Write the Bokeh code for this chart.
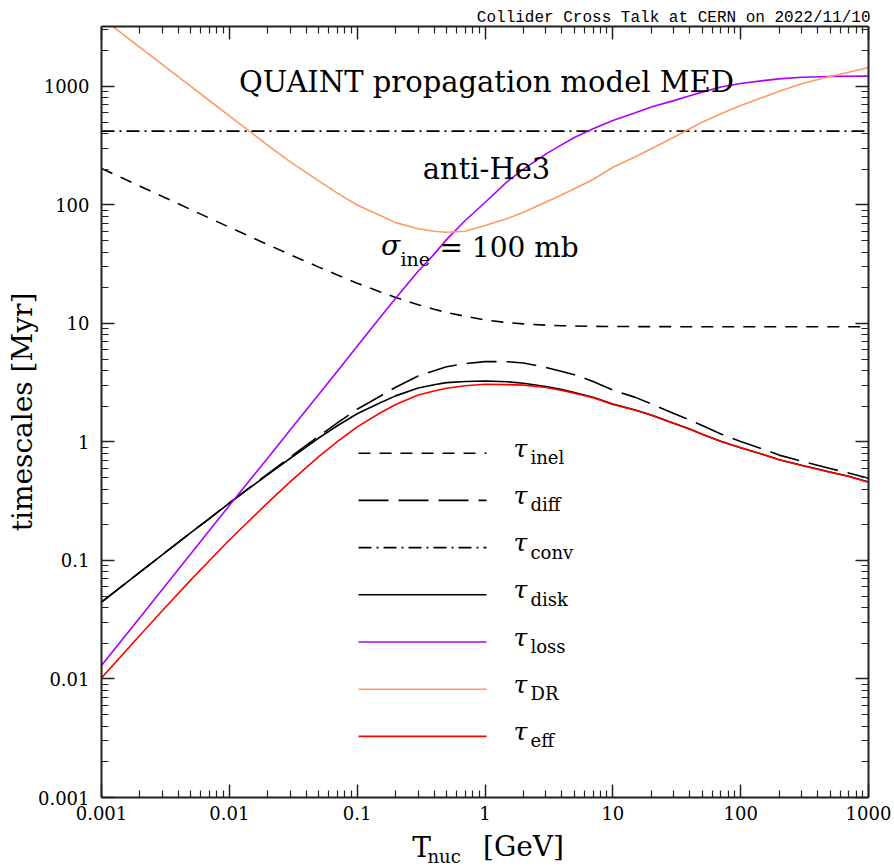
import math
from bokeh.plotting import figure
from bokeh.layouts import column
from bokeh.models import LogAxis, FixedTicker, CustomJSTickFormatter, Label, Range1d
from bokeh.embed import file_html
from bokeh.resources import INLINE

# ---------------- data ----------------
T = [0.001, 0.002, 0.003, 0.005, 0.007, 0.01, 0.02, 0.03, 0.05, 0.07,
     0.1, 0.15, 0.2, 0.3, 0.4, 0.5, 0.7, 1, 1.5, 2,
     3, 4, 5, 7, 10, 15, 20, 30, 40, 50,
     70, 100, 150, 200, 300, 500, 700, 1000]

tau_inel = [203, 144, 118, 91.4, 77.4, 64.9, 46.3, 38.1, 29.9, 25.7,
            21.9, 18.55, 16.6, 14.4, 13.18, 12.4, 11.5, 10.7, 10.18, 9.92,
            9.68, 9.58, 9.52, 9.47, 9.43, 9.42, 9.41, 9.4, 9.4, 9.4,
            9.4, 9.4, 9.4, 9.4, 9.4, 9.4, 9.4, 9.4]

tau_diff = [0.0446, 0.0798, 0.112, 0.172, 0.227, 0.307, 0.538, 0.745, 1.12, 1.45,
            1.89, 2.42, 2.90, 3.61, 3.99, 4.32, 4.59, 4.77, 4.76, 4.64,
            4.25, 3.94, 3.70, 3.24, 2.74, 2.38, 2.10, 1.74, 1.53, 1.38,
            1.17, 1.01, 0.87, 0.775, 0.688, 0.598, 0.547, 0.495]

T_conv = [0.001, 1000]
tau_conv = [420, 420]

tau_disk = [0.0445, 0.0797, 0.112, 0.172, 0.226, 0.305, 0.531, 0.729, 1.08, 1.37,
            1.73, 2.13, 2.45, 2.86, 3.04, 3.17, 3.24, 3.27, 3.22, 3.13,
            2.94, 2.77, 2.62, 2.39, 2.09, 1.86, 1.69, 1.44, 1.285, 1.165,
            1.015, 0.896, 0.785, 0.709, 0.636, 0.558, 0.514, 0.46]

tau_loss = [0.0130, 0.0331, 0.0573, 0.114, 0.180, 0.291, 0.733, 1.27, 2.52, 3.96,
            6.42, 11.1, 16.3, 27.6, 38.5, 51, 74, 105, 158, 201,
            270, 323, 371, 440, 516, 600, 670, 760, 835, 896,
            990, 1060, 1120, 1160, 1195, 1216, 1220, 1222]

tau_DR = [3800, 2143, 1531, 1001, 758, 564, 319, 231, 160, 126,
          100, 82, 71, 63, 60, 58.8, 60, 67, 77, 87,
          106, 122, 137, 164, 208, 255, 298, 373, 440, 500,
          589, 692, 810, 912, 1054, 1216, 1321, 1445]

tau_eff = [0.0102, 0.0234, 0.0379, 0.0686, 0.100, 0.149, 0.308, 0.463, 0.752, 1.008,
           1.341, 1.748, 2.07, 2.49, 2.69, 2.84, 2.98, 3.07, 3.05, 3.02,
           2.88, 2.72, 2.58, 2.36, 2.075, 1.85, 1.68, 1.43, 1.28, 1.16,
           1.01, 0.893, 0.784, 0.707, 0.634, 0.556, 0.512, 0.458]

x_ticks = [0.001, 0.01, 0.1, 1, 10, 100, 1000]
x_tick_labels = ["0.001", "0.01", "0.1", "1", "10", "100", "1000"]
y_ticks = [0.001, 0.01, 0.1, 1, 10, 100, 1000]
y_tick_labels = ["0.001", "0.01", "0.1", "1", "10", "100", "1000"]

legend_subs = ["inel", "diff", "conv", "disk", "loss", "DR", "eff"]

# ---------------- layout ----------------
W, H = 894, 868
H_MAIN = 828                      # main figure; a text strip sits below it
STRIP_H = H - H_MAIN
BL, BR, BT = 101, 26, 26
FRAME_BOTTOM = 797
BB = H_MAIN - FRAME_BOTTOM
FW, FH = W - BL - BR, FRAME_BOTTOM - BT
X_LO, X_HI = 0.001, 1000.0
Y_LO, Y_HI = 0.001, 3208.0
LX0, LX1 = math.log10(X_LO), math.log10(X_HI)
LY0, LY1 = math.log10(Y_LO), math.log10(Y_HI)
BASE_SHIFT = 0.36   # label anchor sits this many em below the glyph baseline


def dx(px):
    return 10 ** (LX0 + (px - BL) / FW * (LX1 - LX0))


def dy(py):
    return 10 ** (LY1 - (py - BT) / FH * (LY1 - LY0))


SERIF = "DejaVu Serif"
AX_COLOR = "#222222"

p = figure(width=W, height=H_MAIN, x_axis_type="log", y_axis_type="log",
           x_range=Range1d(X_LO, X_HI), y_range=Range1d(Y_LO, Y_HI),
           output_backend="svg", toolbar_location=None,
           min_border_left=BL, min_border_right=BR,
           min_border_top=BT, min_border_bottom=BB)
p.outline_line_color = None
p.xgrid.visible = False
p.ygrid.visible = False
p.background_fill_color = "white"
p.border_fill_color = "white"

# top-right caption as the plot title
p.title.text = "Collider Cross Talk at CERN on 2022/11/10"
p.title.align = "right"
p.title.text_font = "Liberation Mono"
p.title.text_font_size = "16px"
p.title.text_font_style = "normal"
p.title.text_color = "black"
p.title.standoff = 0
p.title.offset = -2


def minor_of(ticks, hi):
    out = []
    for t in ticks:
        for m in range(2, 10):
            v = t * m
            if v <= hi * 1.0001:
                out.append(v)
    return out


label_code = """
for (let i = 0; i < tvals.length; i++) {
  if (Math.abs(Math.log10(tick) - Math.log10(tvals[i])) < 1e-6) return tlabels[i];
}
return "";
"""


def style(ax, ticks, labels, hi, show, standoff):
    ax.ticker = FixedTicker(ticks=ticks, minor_ticks=minor_of(ticks, hi))
    ax.axis_line_width = 2
    ax.axis_line_color = AX_COLOR
    ax.major_tick_in = 13
    ax.major_tick_out = 0
    ax.minor_tick_in = 7
    ax.minor_tick_out = 0
    ax.major_tick_line_width = 1.5
    ax.minor_tick_line_width = 1.2
    ax.major_tick_line_color = AX_COLOR
    ax.minor_tick_line_color = AX_COLOR
    if show:
        ax.formatter = CustomJSTickFormatter(args=dict(tvals=ticks, tlabels=labels), code=label_code)
        ax.major_label_text_font = SERIF
        ax.major_label_text_font_size = "18px"
        ax.major_label_text_color = "black"
        ax.major_label_standoff = standoff
    else:
        ax.formatter = CustomJSTickFormatter(code="return '';")
        ax.major_label_text_font_size = "0px"
        ax.major_label_standoff = 0


style(p.xaxis[0], x_ticks, x_tick_labels, X_HI, True, 8)
style(p.yaxis[0], y_ticks, y_tick_labels, Y_HI, True, 12)
top_ax = LogAxis()
right_ax = LogAxis()
style(top_ax, x_ticks, x_tick_labels, X_HI, False, 0)
style(right_ax, y_ticks, y_tick_labels, Y_HI, False, 0)
p.add_layout(top_ax, "above")
p.add_layout(right_ax, "right")

ya = p.yaxis[0]
ya.axis_label = "timescales [Myr]"
ya.axis_label_text_font = SERIF
ya.axis_label_text_font_size = "28px"
ya.axis_label_text_font_style = "normal"
ya.axis_label_text_color = "black"
ya.axis_label_standoff = -4

# ---------------- curves ----------------
LW = 1.6
ORANGE = "#ff9966"
PURPLE = "#aa00ff"
RED = "#ff0000"
styles = [
    dict(color="black", line_dash="12 9"),
    dict(color="black", line_dash="30 10"),
    dict(color="black", line_dash="13 5 2 5"),
    dict(color="black", line_dash="solid"),
    dict(color=PURPLE, line_dash="solid"),
    dict(color=ORANGE, line_dash="solid"),
    dict(color=RED, line_dash="solid"),
]
series = [(T, tau_inel), (T, tau_diff), (T_conv, tau_conv), (T, tau_disk),
          (T, tau_loss), (T, tau_DR), (T, tau_eff)]
for (xs, ys), st in zip(series, styles):
    p.line(xs, ys, line_color=st["color"], line_width=LW, line_dash=st["line_dash"])


def lab(fig, px, py, text, size, align="left", italic=False, font=SERIF, in_strip=False):
    """Place a text whose glyph baseline should sit at canvas pixel (px, py)."""
    py_anchor = py - BASE_SHIFT * size
    if in_strip:
        x, y = px, py_anchor
    else:
        x, y = dx(px), dy(py_anchor)
    fig.add_layout(Label(x=x, y=y, text=text, text_font=font, text_font_size=f"{size}px",
                         text_font_style="italic" if italic else "normal",
                         text_align=align, text_baseline="alphabetic",
                         text_color="black"))


# ---------------- legend (hand-built) ----------------
row0, drow = 452.7, 47.2
for i, (sub, st) in enumerate(zip(legend_subs, styles)):
    ry = row0 + i * drow
    p.line([dx(358), dx(486)], [dy(ry), dy(ry)], line_color=st["color"],
           line_width=LW, line_dash=st["line_dash"])
    lab(p, 520, ry + 4, "τ", 25, align="center", italic=True)
    lab(p, 530, ry + 11, sub, 18)

# ---------------- in-plot texts ----------------
lab(p, 486, 92, "QUAINT propagation model MED", 29, align="center")
lab(p, 486, 179, "anti-He3", 29, align="center")
lab(p, 390, 255, "σ", 28, align="center", italic=True)
lab(p, 400, 265, "ine", 19)
lab(p, 439, 257, "= 100 mb", 28)

# ---------------- bottom strip with the x-axis title ----------------
# the column layout lines its frame up with the main frame (x: BL..W-BR);
# its coordinates are canvas pixels (y counted downward)
strip = figure(width=W, height=STRIP_H, x_range=Range1d(BL, W - BR),
               y_range=Range1d(H, H_MAIN),
               output_backend="svg", toolbar_location=None,
               x_axis_location=None, y_axis_location=None,
               min_border=0, min_border_left=BL, min_border_right=BR,
               min_border_top=0, min_border_bottom=0)
strip.title = None
strip.outline_line_color = None
strip.xgrid.visible = False
strip.ygrid.visible = False
strip.background_fill_color = "white"
strip.border_fill_color = "white"

lab(strip, 421, 857, "T", 28, align="center", in_strip=True)
lab(strip, 427, 862, "nuc", 18, in_strip=True)
lab(strip, 523, 856, "[GeV]", 28, align="center", in_strip=True)

layout = column(p, strip, spacing=0)
open("out.html", "w").write(file_html(layout, INLINE))
